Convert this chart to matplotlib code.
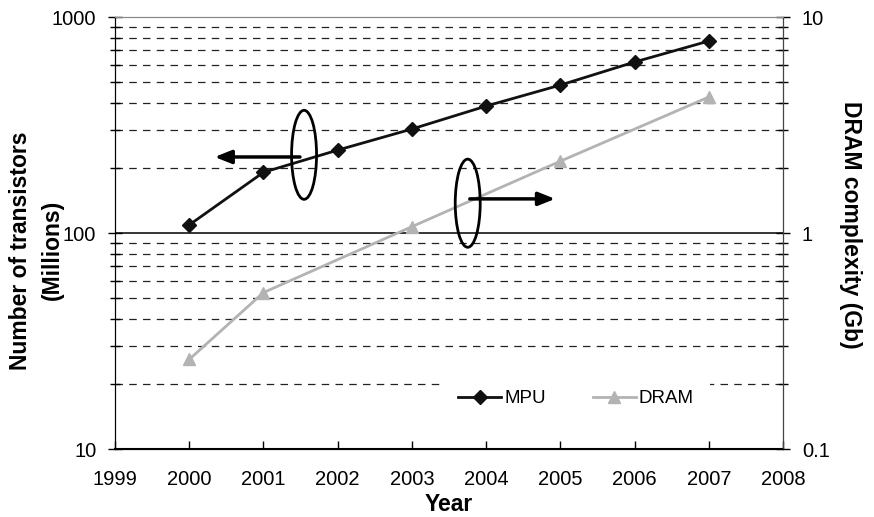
import matplotlib
matplotlib.use("Agg")

import matplotlib.pyplot as plt
from matplotlib.patches import Ellipse
from matplotlib.ticker import LogLocator, NullFormatter, FixedLocator

plt.rcParams["font.family"] = ["Liberation Sans", "DejaVu Sans"]

# data
mpu_years = [2000, 2001, 2002, 2003, 2004, 2005, 2006, 2007]
mpu_transistors = [109, 191, 242, 303, 387, 484, 619, 774]  # millions

dram_years = [2000, 2001, 2003, 2005, 2007]
dram_gb = [0.26, 0.53, 1.07, 2.15, 4.26]

year_ticks = list(range(1999, 2009))

fig = plt.figure(figsize=(8.74, 5.17), dpi=100)
ax = fig.add_axes([0.1316, 0.1315, 0.7643, 0.8356])
ax2 = ax.twinx()

ax.set_xlim(1999, 2008)
ax.set_yscale("log")
ax.set_ylim(10, 1000)
ax2.set_yscale("log")
ax2.set_ylim(0.1, 10)

# gridlines: dashed at minor ticks, solid at 100
minor_vals = [v * m for m in (10, 100) for v in range(2, 10)]
for v in minor_vals:
    ax.axhline(v, color="#222222", lw=0.9, dashes=(6, 5), zorder=0.5)
ax.axhline(100, color="black", lw=1.1, zorder=0.5)

ax.plot(mpu_years, mpu_transistors, color="#111111", lw=2.0, marker="D",
        ms=7, zorder=3, label="MPU")
ax2.plot(dram_years, dram_gb, color="#b3b3b3", lw=2.0, marker="^",
         ms=9, zorder=3, label="DRAM")

# ticks
ax.xaxis.set_major_locator(FixedLocator(year_ticks))
ax.tick_params(axis="x", direction="in", length=6, width=1, labelsize=14.5, pad=15)
for a in (ax, ax2):
    a.yaxis.set_major_locator(LogLocator(base=10))
    a.yaxis.set_minor_locator(LogLocator(base=10, subs=range(2, 10)))
    a.yaxis.set_minor_formatter(NullFormatter())
    a.tick_params(axis="y", which="major", direction="inout", length=10,
                  width=1, labelsize=14.5, pad=8.5)
    a.tick_params(axis="y", which="minor", direction="inout", length=7, width=1)
ax.set_yticks([10, 100, 1000], ["10", "100", "1000"])
ax2.set_yticks([0.1, 1, 10], ["0.1", "1", "10"])

ax.spines["left"].set_color("black")
ax.spines["bottom"].set_linewidth(1.5)
ax.spines["top"].set_color("#888888")
ax2.spines["right"].set_color("#444444")
ax2.spines["top"].set_color("#888888")

ax.set_xlabel("Year", fontsize=16.5, fontweight="bold", labelpad=3)
ax.set_ylabel("Number of transistors\n(Millions)", fontsize=16.5,
              fontweight="bold", linespacing=1.5)
ax.yaxis.set_label_coords(-0.077, 0.46)
ax2.set_ylabel("DRAM complexity (Gb)", fontsize=16.5, fontweight="bold",
               rotation=270)
ax2.yaxis.set_label_coords(1.118, 0.52)

# annotations: ellipses with arrows pointing to each axis
ax2.add_patch(Ellipse((0.283, 0.681), 0.0374, 0.206, transform=ax.transAxes,
                      fill=False, ec="black", lw=2, zorder=4))
ax2.add_patch(Ellipse((0.528, 0.569), 0.0374, 0.204, transform=ax.transAxes,
                      fill=False, ec="black", lw=2, zorder=4))
ax2.annotate("", xy=(0.145, 0.676), xytext=(0.281, 0.676),
             xycoords="axes fraction",
             arrowprops=dict(arrowstyle="-|>,head_length=1.0,head_width=0.4",
                             color="black", lw=2.5))
ax2.annotate("", xy=(0.663, 0.579), xytext=(0.527, 0.579),
             xycoords="axes fraction",
             arrowprops=dict(arrowstyle="-|>,head_length=1.0,head_width=0.4",
                             color="black", lw=2.5))

h1, l1 = ax.get_legend_handles_labels()
h2, l2 = ax2.get_legend_handles_labels()
leg = ax2.legend(h1 + h2, l1 + l2, loc="center", bbox_to_anchor=(0.69, 0.116),
                 ncol=2, frameon=True, fontsize=13.5, handlelength=2.3,
                 handletextpad=0.15, columnspacing=2.5, borderpad=0.9,
                 fancybox=False)
leg.get_frame().set_facecolor("white")
leg.get_frame().set_edgecolor("none")
leg.get_frame().set_alpha(1)

fig.savefig("out.png", dpi=100)
